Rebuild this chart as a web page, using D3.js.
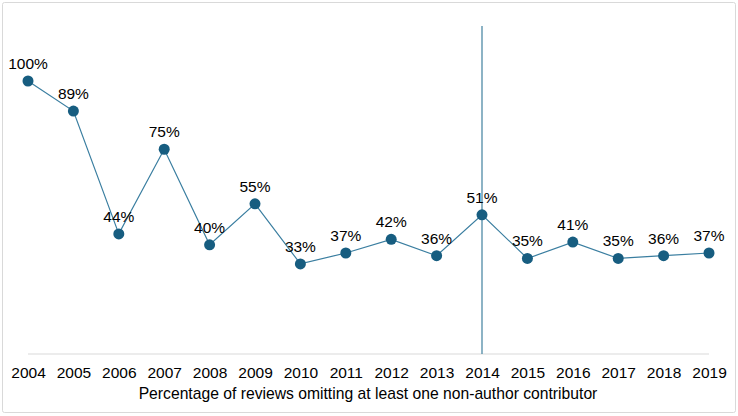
<!DOCTYPE html>
<html>
<head>
<meta charset="utf-8">
<script src="https://cdn.jsdelivr.net/npm/d3@7"></script>
<style>
  body { margin: 0; background: #fff; }
  text { font-family: "Liberation Sans", Arial, sans-serif; fill: #000; }
</style>
</head>
<body>
<div id="chart"></div>
<script>
// Chart data
const years = ['2004', '2005', '2006', '2007', '2008', '2009', '2010', '2011',
               '2012', '2013', '2014', '2015', '2016', '2017', '2018', '2019'];
const percentages = [100, 89, 44, 75, 40, 55, 33, 37, 42, 36, 51, 35, 41, 35, 36, 37];
const markerYear = '2014';
const caption = 'Percentage of reviews omitting at least one non-author contributor';

const width = 738, height = 416;

const svg = d3.select('#chart')
  .append('svg')
    .attr('width', width)
    .attr('height', height);

// Outer frame
svg.append('rect')
  .attr('x', 2.5).attr('y', 2.5)
  .attr('width', 733).attr('height', 410)
  .attr('rx', 2)
  .attr('fill', '#fff')
  .attr('stroke', '#d9d9d9');

const x = d3.scalePoint()
  .domain(years)
  .range([28, 709]);

const y = d3.scaleLinear()
  .domain([0, 100])
  .range([354, 81]);

// Baseline
svg.append('line')
  .attr('x1', x(years[0])).attr('x2', x(years[years.length - 1]))
  .attr('y1', y(0)).attr('y2', y(0))
  .attr('stroke', '#d9d9d9');

// Year labels
const xAxis = d3.axisBottom(x).tickSize(0).tickPadding(0);
const gx = svg.append('g')
  .attr('transform', `translate(0,${y(0) + 12.5})`)
  .call(xAxis);
gx.select('.domain').remove();
gx.selectAll('text')
  .attr('dy', '0.71em')
  .style('font-size', '15.5px')
  .style('font-family', '"Liberation Sans", Arial, sans-serif')
  .attr('fill', '#000');

// Caption
svg.append('text')
  .attr('x', 368).attr('y', 399)
  .attr('text-anchor', 'middle')
  .style('font-size', '15.7px')
  .text(caption);

// Vertical marker at 2014
svg.append('line')
  .attr('x1', x(markerYear)).attr('x2', x(markerYear))
  .attr('y1', 26).attr('y2', y(0))
  .attr('stroke', '#4f8aa6')
  .attr('stroke-width', 1.3);

const data = years.map((yr, i) => ({ year: yr, value: percentages[i] }));

// Line
svg.append('path')
  .datum(data)
  .attr('fill', 'none')
  .attr('stroke', '#3a7ea0')
  .attr('stroke-width', 1.2)
  .attr('d', d3.line().x(d => x(d.year)).y(d => y(d.value)));

// Dots
svg.append('g')
  .selectAll('circle')
  .data(data)
  .enter()
  .append('circle')
    .attr('cx', d => x(d.year))
    .attr('cy', d => y(d.value))
    .attr('r', 5.5)
    .attr('fill', '#175d80');

// Value labels
svg.append('g')
  .selectAll('text')
  .data(data)
  .enter()
  .append('text')
    .attr('x', d => x(d.year))
    .attr('y', d => y(d.value) - 12)
    .attr('text-anchor', 'middle')
    .style('font-size', '15.5px')
    .text(d => d.value + '%');
</script>
</body>
</html>
